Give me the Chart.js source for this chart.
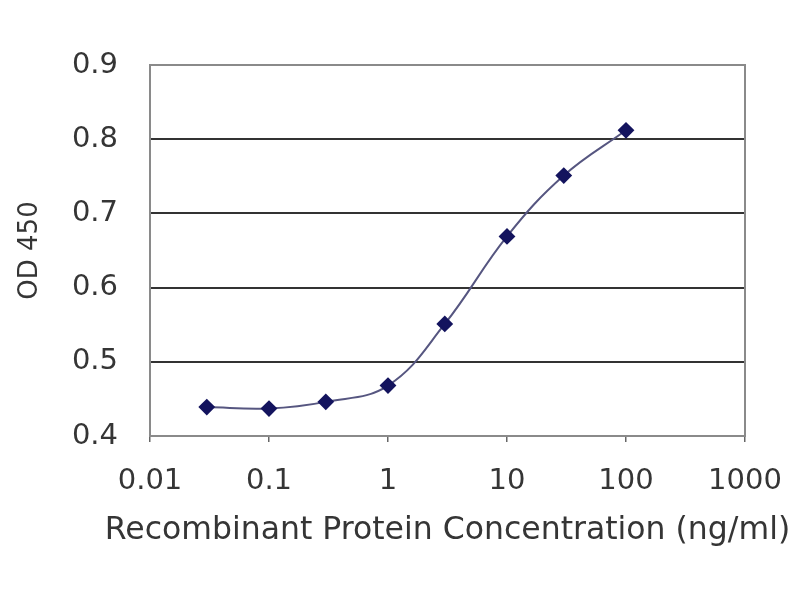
<!DOCTYPE html>
<html>
<head>
<meta charset="utf-8">
<script src="https://cdn.jsdelivr.net/npm/chart.js@4/dist/chart.umd.min.js"></script>
<style>
  html, body { margin: 0; padding: 0; background: #ffffff; }
  #wrap { width: 800px; height: 600px; }
</style>
</head>
<body>
<div id="wrap"><canvas id="c" width="800" height="600"></canvas></div>
<script>
const concentrations = [0.03, 0.1, 0.3, 1, 3, 10, 30, 100];
const od450 = [0.439, 0.437, 0.446, 0.468, 0.551, 0.669, 0.751, 0.812];
const xTickValues = [0.01, 0.1, 1, 10, 100, 1000];
const xTickLabels = ['0.01', '0.1', '1', '10', '100', '1000'];
const yTickValues = [0.4, 0.5, 0.6, 0.7, 0.8, 0.9];
const yTickLabels = ['0.4', '0.5', '0.6', '0.7', '0.8', '0.9'];
const xTitle = 'Recombinant Protein Concentration (ng/ml)';
const yTitle = 'OD 450';

const points = concentrations.map((x, i) => ({ x: x, y: od450[i] }));

const FONT = 'DejaVu Sans';
const TEXT = '#353535';

const frame = {
  id: 'frame',
  beforeDatasetsDraw(chart) {
    const a = chart.chartArea;
    const ctx = chart.ctx;
    ctx.save();
    ctx.strokeStyle = '#8a8a8a';
    ctx.lineWidth = 2;
    ctx.strokeRect(a.left, a.top, a.right - a.left, a.bottom - a.top);
    ctx.restore();
  },
  afterDraw(chart) {
    const a = chart.chartArea;
    const ctx = chart.ctx;
    ctx.save();
    ctx.fillStyle = TEXT;
    ctx.font = '31.5px "' + FONT + '"';
    ctx.textAlign = 'center';
    ctx.textBaseline = 'middle';
    ctx.fillText(xTitle, (a.left + a.right) / 2, 531);
    ctx.restore();
  }
};

new Chart(document.getElementById('c'), {
  type: 'line',
  data: {
    datasets: [{
      data: points,
      borderColor: '#565680',
      borderWidth: 2,
      backgroundColor: '#14145e',
      pointBackgroundColor: '#14145e',
      pointBorderColor: '#14145e',
      pointStyle: 'rectRot',
      pointRadius: 7,
      tension: 0.4,
      fill: false
    }]
  },
  options: {
    responsive: false,
    animation: false,
    devicePixelRatio: 1,
    layout: { padding: { left: 0, top: 65, right: 55, bottom: 0 } },
    plugins: { legend: { display: false }, tooltip: { enabled: false } },
    scales: {
      x: {
        type: 'logarithmic',
        min: 0.01,
        max: 1000,
        afterBuildTicks(scale) {
          scale.ticks = xTickValues.map(v => ({ value: v }));
        },
        afterFit(scale) {
          scale.height = 164;
          scale.paddingRight = 0;
          scale.paddingLeft = 0;
        },
        ticks: {
          autoSkip: false,
          maxRotation: 0,
          padding: 22,
          color: TEXT,
          font: { family: FONT, size: 29 },
          callback(value) {
            const i = xTickValues.indexOf(value);
            return i >= 0 ? xTickLabels[i] : '';
          }
        },
        grid: { drawOnChartArea: false, drawTicks: true, tickLength: 6, color: '#666666', lineWidth: 1.5 },
        border: { display: true, color: '#555555', width: 2 },
        title: { display: false }
      },
      y: {
        type: 'linear',
        min: 0.4,
        max: 0.9,
        afterBuildTicks(scale) {
          scale.ticks = yTickValues.map(v => ({ value: v }));
        },
        afterFit(scale) {
          scale.width = 150;
          scale.paddingTop = 0;
          scale.paddingBottom = 0;
        },
        ticks: {
          padding: 32,
          color: TEXT,
          font: { family: FONT, size: 29 },
          callback(value) {
            const i = yTickValues.findIndex(v => Math.abs(v - value) < 1e-9);
            return i >= 0 ? yTickLabels[i] : '';
          }
        },
        grid: {
          drawTicks: false,
          lineWidth: 2,
          color(ctx) {
            const v = ctx.tick ? ctx.tick.value : null;
            if (v === null || Math.abs(v - 0.4) < 1e-9 || Math.abs(v - 0.9) < 1e-9) return 'rgba(0,0,0,0)';
            return '#333333';
          }
        },
        border: { display: true, color: '#555555', width: 2 },
        title: {
          display: true,
          text: yTitle,
          color: TEXT,
          font: { family: FONT, size: 26 },
          padding: { top: 15, bottom: 0 }
        }
      }
    }
  },
  plugins: [frame]
});
</script>
</body>
</html>
